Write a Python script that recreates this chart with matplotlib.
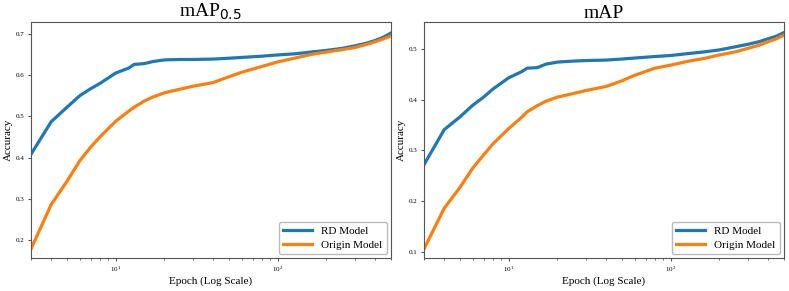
import matplotlib.pyplot as plt
import numpy as np

plt.rcParams["font.family"] = ["Liberation Serif", "DejaVu Serif"]

epochs = [3, 4, 5, 6, 7, 8, 10, 12, 13, 15, 17, 20, 25, 30, 40, 50, 60, 80,
          100, 130, 160, 200, 250, 300, 350, 400, 450, 500]

# mAP@0.5
rd_map50 = [0.408, 0.487, 0.522, 0.550, 0.567, 0.580, 0.605, 0.617, 0.626, 0.628,
            0.633, 0.637, 0.638, 0.638, 0.639, 0.641, 0.643, 0.646, 0.649, 0.652,
            0.656, 0.660, 0.665, 0.671, 0.677, 0.684, 0.692, 0.702]
origin_map50 = [0.178, 0.286, 0.342, 0.392, 0.425, 0.450, 0.488, 0.512, 0.522, 0.537,
                0.547, 0.557, 0.566, 0.573, 0.582, 0.596, 0.607, 0.621, 0.632, 0.642,
                0.650, 0.656, 0.662, 0.667, 0.674, 0.681, 0.688, 0.695]

# mAP@0.5:0.95
rd_map = [0.272, 0.341, 0.366, 0.389, 0.405, 0.421, 0.443, 0.455, 0.462, 0.463,
          0.470, 0.474, 0.476, 0.477, 0.478, 0.480, 0.482, 0.485, 0.487, 0.491,
          0.494, 0.498, 0.504, 0.509, 0.514, 0.520, 0.525, 0.532]
origin_map = [0.106, 0.186, 0.227, 0.265, 0.291, 0.313, 0.343, 0.365, 0.376, 0.388,
              0.397, 0.405, 0.412, 0.418, 0.426, 0.437, 0.448, 0.462, 0.468, 0.476,
              0.481, 0.488, 0.494, 0.501, 0.507, 0.514, 0.520, 0.527]

fig = plt.figure(figsize=(7.89, 2.91), dpi=100)
ax1 = fig.add_axes([0.0393, 0.1134, 0.456, 0.811])
ax2 = fig.add_axes([0.5374, 0.1134, 0.456, 0.811])

panels = [(ax1, rd_map50, origin_map50, "mAP$_{0.5}$", (0.156, 0.729)),
          (ax2, rd_map, origin_map, "mAP", (0.088, 0.553))]

for ax, rd, orig, title, ylim in panels:
    ax.plot(epochs, rd, color="#1f77b4", lw=2.3, label="RD Model")
    ax.plot(epochs, orig, color="#ff7f0e", lw=2.3, label="Origin Model")
    ax.set_xscale("log")
    ax.set_xlim(3, 500)
    ax.set_ylim(*ylim)
    ax.set_title(title, fontsize=14, pad=3)
    ax.set_xlabel("Epoch (Log Scale)", fontsize=8, labelpad=2)
    ax.set_ylabel("Accuracy", fontsize=8, labelpad=2)
    ax.tick_params(labelsize=5, length=2.5, color="#555555", pad=2)
    ax.tick_params(which="minor", length=1.5, color="#555555")
    for s in ax.spines.values():
        s.set_color("#555555")
    leg = ax.legend(loc="lower right", fontsize=8, handlelength=2.6,
                    borderaxespad=0.35, labelspacing=0.35)
    leg.get_frame().set_edgecolor("#aaaaaa")

fig.savefig("out.png", dpi=100)
